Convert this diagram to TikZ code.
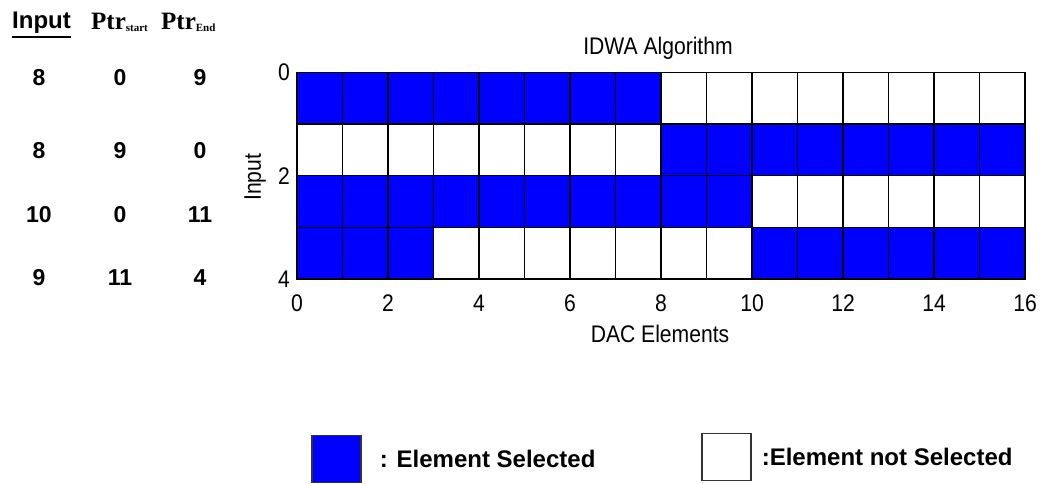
\documentclass[tikz,border=0pt]{standalone}
\usepackage{fontspec}
\setmainfont{Liberation Sans}
\newfontfamily\ptrfont{Liberation Serif}
\newfontfamily\axfont[FakeStretch=0.88]{Liberation Sans}
\usetikzlibrary{positioning}
\definecolor{selblue}{RGB}{0,0,255}
\tikzset{
  cell/.style     ={draw=black,line width=1.3pt},
  ticklabel/.style={font=\axfont\fontsize{24}{26}\selectfont,inner sep=0pt},
  axlabel/.style  ={font=\axfont\fontsize{24}{26}\selectfont,inner sep=0pt},
  tabnum/.style   ={font=\fontsize{23}{26}\selectfont\bfseries,inner sep=0pt},
  tabhead/.style  ={font=\fontsize{24}{28}\selectfont\bfseries,inner sep=0pt,anchor=base west},
  ptrhead/.style  ={font=\ptrfont\fontsize{25}{28}\selectfont\bfseries,inner sep=0pt,anchor=base west},
  legbox/.style   ={draw=black!80,line width=1.2pt,minimum width=49pt,minimum height=47pt,inner sep=0pt},
  legtext/.style  ={font=\fontsize{24}{28}\selectfont\bfseries,inner sep=0pt}
}
\newcommand{\ptrsub}[1]{\raisebox{-2pt}{\fontsize{11}{11}\selectfont #1}}

\begin{document}
\begin{tikzpicture}[x=1pt,y=-1pt]
  \useasboundingbox (0,0) rectangle (1041,484);
  % pointer table
  \node[tabhead] (hinput) at (12,29) {Input};
  \draw[line width=2.5pt] ([yshift=-8pt]hinput.base west) -- ([yshift=-8pt]hinput.base east);
  \node[ptrhead] (hstart) at (91,30)  {Ptr\ptrsub{start}};
  \node[ptrhead] (hend)   at (161,30) {Ptr\ptrsub{End}};
  \foreach \i/\p/\q/\y [count=\k] in {8/0/9/78, 8/9/0/151, 10/0/11/215, 9/11/4/278} {
    \node[tabnum] (in\k) at (39,\y)  {\i};
    \node[tabnum] (ps\k) at (120,\y) {\p};
    \node[tabnum] (pe\k) at (200,\y) {\q};
  }
  % selection grid
  \begin{scope}[shift={(297,72.5)},x=45.5pt,y=-51.6pt]
    \foreach \r/\s/\n in {0/0/8, 1/8/8, 2/0/10, 3/10/9} {
      \foreach \c in {0,...,15} {
        \pgfmathtruncatemacro\k{mod(\c-\s+16,16)}
        \ifnum\k<\n\relax\def\cellcol{selblue}\else\def\cellcol{white}\fi
        \draw[cell,fill=\cellcol] (\c,\r) rectangle ++(1,1);
      }
    }
    \foreach \c in {0,2,...,16}
      \node[ticklabel,anchor=base] (xt\c) at (\c,4.64) {\c};
    \foreach \r in {0,2,4}
      \node[ticklabel,anchor=east,xshift=-7pt] (yt\r) at (0,\r) {\r};
    \node[axlabel,rotate=90] (ylab) at (-0.92,2.03) {Input};
  \end{scope}
  \node[axlabel,anchor=base] (title) at (658,55)  {IDWA Algorithm};
  \node[axlabel,anchor=base] (xlab)  at (660,342) {DAC Elements};
  % legend
  \node[legbox,fill=selblue] (selbox) at (336.5,459) {};
  \node[legtext,right=18pt of selbox] (seltext) {: Element Selected};
  \node[legbox,fill=white] (unselbox) at (726.5,457) {};
  \node[legtext,right=10pt of unselbox] (unseltext) {:Element not Selected};
\end{tikzpicture}
\end{document}
